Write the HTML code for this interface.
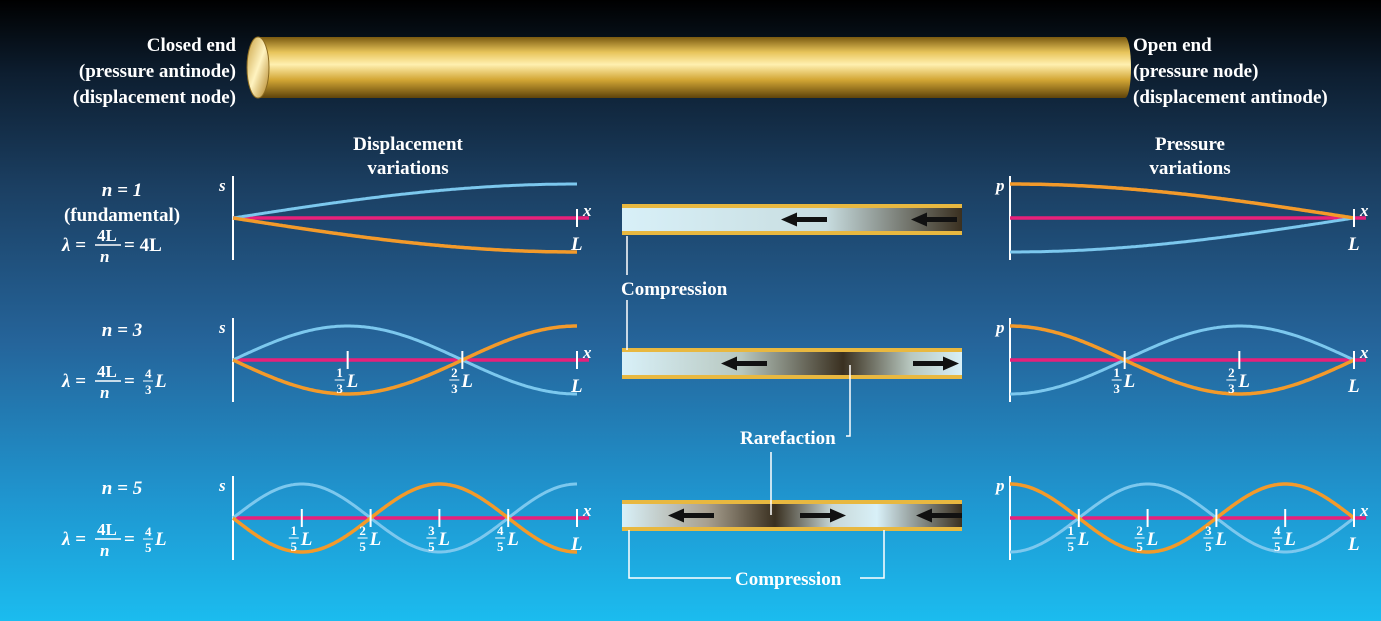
<!DOCTYPE html>
<html><head><meta charset="utf-8"><style>
html,body{margin:0;padding:0;width:1381px;height:621px;overflow:hidden}
svg{display:block}
text{font-family:"Liberation Serif",serif;font-weight:bold;fill:#fff}
</style></head><body>
<svg id="fig" width="1381" height="621" viewBox="0 0 1381 621">
<defs>
<linearGradient id="bg" x1="0" y1="0" x2="0" y2="1">
<stop offset="0" stop-color="#000"/><stop offset="0.12" stop-color="#0d1e30"/>
<stop offset="0.3" stop-color="#1b3f62"/><stop offset="0.55" stop-color="#25649a"/>
<stop offset="0.8" stop-color="#1f95cf"/><stop offset="1" stop-color="#1bbcef"/></linearGradient>
<linearGradient id="rod" x1="0" y1="0" x2="0" y2="1">
<stop offset="0" stop-color="#7a5a10"/><stop offset="0.25" stop-color="#e8c45a"/>
<stop offset="0.45" stop-color="#fff0b0"/><stop offset="0.7" stop-color="#d3a735"/>
<stop offset="1" stop-color="#5e430a"/></linearGradient>
<linearGradient id="cap" x1="0" y1="0" x2="1" y2="1">
<stop offset="0" stop-color="#c9a040"/><stop offset="0.5" stop-color="#fff3c0"/><stop offset="1" stop-color="#b08020"/></linearGradient>
<linearGradient id="t1" x1="0" x2="1"><stop offset="0" stop-color="#d8f0f8"/><stop offset="0.6" stop-color="#c8dde0"/><stop offset="1" stop-color="#3a3020"/></linearGradient>
<linearGradient id="t2" x1="0" x2="1"><stop offset="0" stop-color="#d8f0f8"/><stop offset="0.35" stop-color="#b8c8c0"/><stop offset="0.65" stop-color="#3a3020"/><stop offset="0.85" stop-color="#b8c8c0"/><stop offset="1" stop-color="#d8f0f8"/></linearGradient>
<linearGradient id="t3" x1="0" x2="1"><stop offset="0" stop-color="#d8f0f8"/><stop offset="0.25" stop-color="#a8a090"/><stop offset="0.45" stop-color="#3a3020"/><stop offset="0.62" stop-color="#c8d8d8"/><stop offset="0.75" stop-color="#d8f0f8"/><stop offset="1" stop-color="#3a3020"/></linearGradient>
</defs>
<rect width="1381" height="621" fill="url(#bg)"/>
<g>
<rect x="258" y="37" width="867" height="61" fill="url(#rod)"/>
<ellipse cx="1125" cy="67.5" rx="6" ry="30.5" fill="url(#rod)"/>
<ellipse cx="258" cy="67.5" rx="11" ry="30.5" fill="url(#cap)" stroke="#8a6a20"/>
</g>
<g font-size="19">
<text x="236" y="51" text-anchor="end">Closed end</text>
<text x="236" y="77" text-anchor="end">(pressure antinode)</text>
<text x="236" y="103" text-anchor="end">(displacement node)</text>
<text x="1133" y="51">Open end</text>
<text x="1133" y="77">(pressure node)</text>
<text x="1133" y="103">(displacement antinode)</text>
<text x="408" y="150" text-anchor="middle">Displacement</text>
<text x="408" y="174" text-anchor="middle">variations</text>
<text x="1190" y="150" text-anchor="middle">Pressure</text>
<text x="1190" y="174" text-anchor="middle">variations</text>
</g>
<g id="tubes"></g>
<g id="graphs"></g>
<g font-size="19">
<text x="621" y="295">Compression</text>
<text x="740" y="444">Rarefaction</text>
<text x="735" y="585">Compression</text>
</g>
<g stroke="#fff" stroke-width="1.5" fill="none">
<path d="M627 236V275M627 300V350"/>
<path d="M850 365V436H846"/>
<path d="M771 452V515"/>
<path d="M629 530V578H731M860 578H884V530"/>
</g>
<g id="leftlabels" font-size="19"></g>
</svg>
<script>
const modes=[1,3,5];
const rowY=[218,360,518];
const amp=34;
const dispX0=233, pressX0=1010, len=344;
const NS="http://www.w3.org/2000/svg";
function el(tag,attrs,parent,txt){const e=document.createElementNS(NS,tag);for(const k in attrs)e.setAttribute(k,attrs[k]);if(txt!==undefined)e.textContent=txt;parent.appendChild(e);return e;}
const G=document.getElementById('graphs');
function xs(x0,f){return x0+f*len;}
modes.forEach((n,i)=>{
  const cy=rowY[i];
  [['disp',dispX0,'s',f=>Math.sin(n*Math.PI*f/2),1],['press',pressX0,'p',f=>Math.cos(n*Math.PI*f/2),-1]].forEach(([kind,x0,lab,fn,sg])=>{
    const g=el('g',{},G);
    
    
    el('line',{x1:x0,y1:cy-42,x2:x0,y2:cy+42,stroke:'#fff','stroke-width':2},g);
    el('line',{x1:x0,y1:cy,x2:x0+len+12,y2:cy,stroke:'#e8207a','stroke-width':3.5},g);
    let pb='',po='';
    for(let k=0;k<=200;k++){const f=k/200,x=xs(x0,f),y=fn(f)*amp*sg;pb+=(k?'L':'M')+x.toFixed(1)+' '+(cy-y).toFixed(1);po+=(k?'L':'M')+x.toFixed(1)+' '+(cy+y).toFixed(1);}
    const b=el('path',{d:pb,fill:'none',stroke:'#7cc8ee','stroke-width':3},g);
    
    
    const o=el('path',{d:po,fill:'none',stroke:'#f39a2a','stroke-width':3.5},g);
    
    
    el('text',{x:x0-14,y:cy-27,'font-size':17,'font-style':'italic'},g,lab);
    el('text',{x:x0+len+6,y:cy-2,'font-size':17,'font-style':'italic'},g,'x');
    el('line',{x1:xs(x0,1),y1:cy-9,x2:xs(x0,1),y2:cy+9,stroke:'#fff','stroke-width':2},g);
    el('text',{x:xs(x0,1)-6,y:cy+32,'font-size':19,'font-style':'italic'},g,'L');
    for(let k=1;k<n;k++){
      const x=xs(x0,k/n);
      el('line',{x1:x,y1:cy-9,x2:x,y2:cy+9,stroke:'#fff','stroke-width':2},g);
      el('text',{x:x-8,y:cy+17,'font-size':13,'text-anchor':'middle'},g,String(k));
      el('line',{x1:x-13,y1:cy+20,x2:x-3,y2:cy+20,stroke:'#fff','stroke-width':1},g);
      el('text',{x:x-8,y:cy+33,'font-size':13,'text-anchor':'middle'},g,String(n));
      el('text',{x:x-1,y:cy+27,'font-size':19,'font-style':'italic'},g,'L');
    }
  });
});
const LL=document.getElementById('leftlabels');
modes.forEach((n,i)=>{
  const cy=rowY[i];
  const g=el('g',{},LL);
  
  
  const off=n===1?-22:-24;
  el('text',{x:122,y:cy+off,'text-anchor':'middle','font-style':'italic'},g,'n = '+n);
  if(n===1) el('text',{x:122,y:cy+3,'text-anchor':'middle'},g,'(fundamental)');
  const ly=n===1?cy+33:cy+27;
  el('text',{x:62,y:ly,'font-style':'italic'},g,'λ =');
  el('text',{x:97,y:ly-10,'font-size':17},g,'4L');
  el('line',{x1:95,y1:ly-6,x2:121,y2:ly-6,stroke:'#fff','stroke-width':1.5},g);
  el('text',{x:100,y:ly+11,'font-size':17,'font-style':'italic'},g,'n');
  if(n===1) el('text',{x:124,y:ly},g,'= 4L');
  else {
    el('text',{x:124,y:ly},g,'=');
    el('text',{x:145,y:ly-9,'font-size':13},g,'4');
    el('line',{x1:143,y1:ly-6,x2:153,y2:ly-6,stroke:'#fff','stroke-width':1},g);
    el('text',{x:145,y:ly+7,'font-size':13},g,String(n));
    el('text',{x:155,y:ly,'font-style':'italic'},g,'L');
  }
});
const T=document.getElementById('tubes');
const tubeY=[204,348,500];
const arrows=[[[805,-1],[935,-1]],[[745,-1],[935,1]],[[692,-1],[822,1],[940,-1]]];
tubeY.forEach((y,i)=>{
  const g=el('g',{},T);
  
  
  el('rect',{x:622,y:y,width:340,height:31,fill:'url(#t'+(i+1)+')'},g);
  el('rect',{x:622,y:y,width:340,height:4,fill:'#e8b840'},g);
  el('rect',{x:622,y:y+27,width:340,height:4,fill:'#e8b840'},g);
  arrows[i].forEach(([x,d])=>{
    const cy=y+15.5;
    el('path',{d:`M${x-d*22} ${cy}L${x+d*10} ${cy}`,stroke:'#111','stroke-width':5},g);
    el('path',{d:`M${x+d*24} ${cy}L${x+d*8} ${cy-7}L${x+d*8} ${cy+7}Z`,fill:'#111'},g);
  });
});
</script>
</body></html>
